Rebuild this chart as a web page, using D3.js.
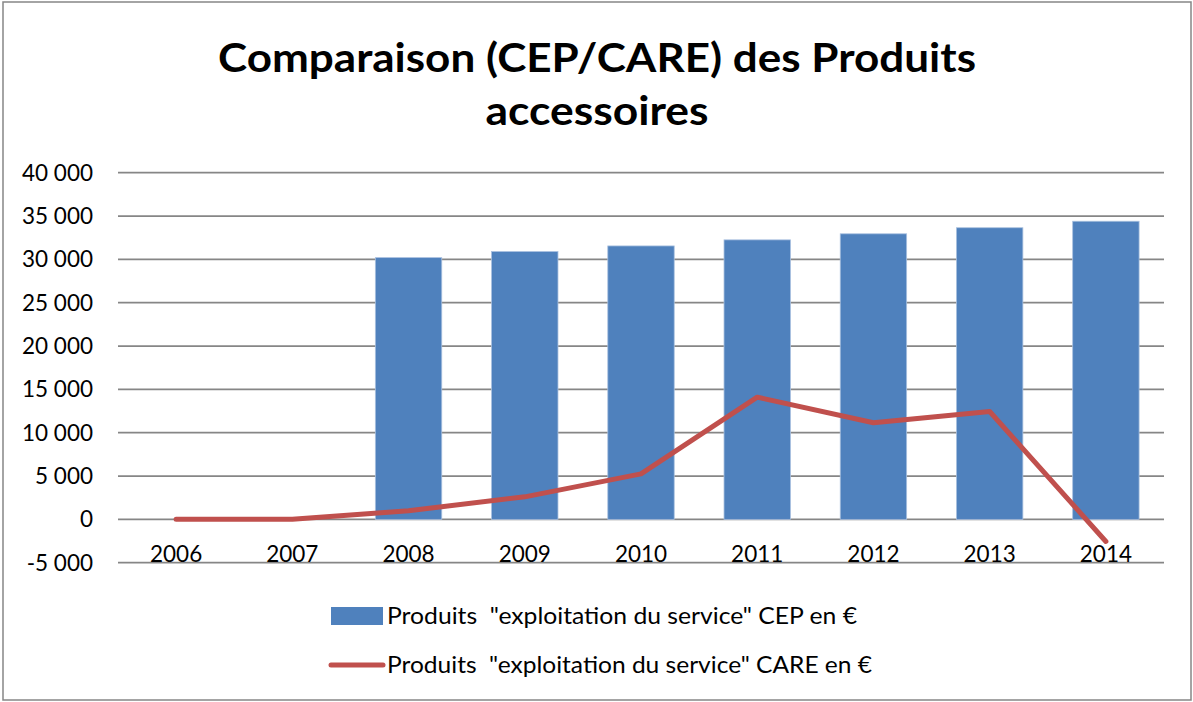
<!DOCTYPE html>
<html>
<head>
<meta charset="utf-8">
<script src="https://cdn.jsdelivr.net/npm/d3@7"></script>
<style>
  body { margin: 0; background: #fff; }
  text { font-family: Lato, "Open Sans", sans-serif; fill: #000; }
</style>
</head>
<body>
<svg width="1193" height="702"></svg>
<script>
var years = ['2006','2007','2008','2009','2010','2011','2012','2013','2014'];
var cepValues = [null, null, 30200, 30900, 31550, 32250, 32950, 33650, 34400];
var careValues = [0, 0, 1000, 2600, 5250, 14100, 11150, 12450, -2550];
var yTicks = [-5000, 0, 5000, 10000, 15000, 20000, 25000, 30000, 35000, 40000];
var titleLines = ['Comparaison (CEP/CARE) des Produits', 'accessoires'];
var seriesNames = ['Produits  "exploitation du service" CEP en \u20ac',
                   'Produits  "exploitation du service" CARE en \u20ac'];

var blue = '#4f81bd', red = '#c0504d', grid = '#868686';
var fr = d3.formatLocale({decimal: ',', thousands: ' ', grouping: [3], currency: ['', ' \u20ac'], minus: '-'});
var fmt = fr.format(',.0f');

var svg = d3.select('svg');

// chart border
svg.append('rect')
   .attr('x', 3).attr('y', 2)
   .attr('width', 1188).attr('height', 698)
   .attr('fill', '#fff')
   .attr('stroke', grid).attr('stroke-width', 1.5);

// title
var titleWidths = [758, 223];
svg.selectAll('.title')
   .data(titleLines)
   .enter().append('text')
     .attr('class', 'title')
     .attr('x', 597)
     .attr('y', (d, i) => 72 + i * 53)
     .attr('text-anchor', 'middle')
     .attr('font-size', 41)
     .attr('font-weight', 'bold')
     .attr('textLength', (d, i) => titleWidths[i])
     .attr('lengthAdjust', 'spacingAndGlyphs')
     .text(d => d);

var x = d3.scaleBand().domain(years).range([118, 1164]);
var y = d3.scaleLinear().domain([-5000, 40000]).range([562.7, 172.7]);
var barW = x.bandwidth() / 1.75;

// gridlines
svg.selectAll('.grid')
   .data(yTicks)
   .enter().append('line')
     .attr('class', 'grid')
     .attr('x1', 118).attr('x2', 1164)
     .attr('y1', d => y(d)).attr('y2', d => y(d))
     .attr('stroke', grid).attr('stroke-width', 1.7);

// y labels
svg.selectAll('.ylab')
   .data(yTicks)
   .enter().append('text')
     .attr('class', 'ylab')
     .attr('x', 93)
     .attr('y', d => y(d))
     .attr('dy', '0.36em')
     .attr('text-anchor', 'end')
     .attr('font-size', 22.5)
     .text(d => fmt(d));

// bars
var barData = years.map((yr, i) => ({year: yr, value: cepValues[i]})).filter(d => d.value != null);
svg.selectAll('.bar')
   .data(barData)
   .enter().append('rect')
     .attr('class', 'bar')
     .attr('x', d => x(d.year) + (x.bandwidth() - barW) / 2)
     .attr('y', d => y(d.value))
     .attr('width', barW)
     .attr('height', d => y(0) - y(d.value))
     .attr('fill', blue)
     .attr('stroke', '#a9c0df').attr('stroke-width', 0.8);

// x labels
svg.selectAll('.xlab')
   .data(years)
   .enter().append('text')
     .attr('class', 'xlab')
     .attr('x', d => x(d) + x.bandwidth() / 2)
     .attr('y', 562)
     .attr('text-anchor', 'middle')
     .attr('font-size', 22.5)
     .text(d => d);

// CARE line
var line = d3.line()
             .x((d, i) => x(years[i]) + x.bandwidth() / 2)
             .y(d => y(d));
svg.append('path')
   .attr('d', line(careValues))
   .attr('fill', 'none')
   .attr('stroke', red)
   .attr('stroke-width', 5)
   .attr('stroke-linecap', 'round')
   .attr('stroke-linejoin', 'round');

// legend
var lg = svg.append('g');
lg.append('rect')
  .attr('x', 331).attr('y', 607)
  .attr('width', 52).attr('height', 18)
  .attr('fill', blue);
lg.append('line')
  .attr('x1', 331).attr('x2', 383)
  .attr('y1', 665).attr('y2', 665)
  .attr('stroke', red).attr('stroke-width', 5)
  .attr('stroke-linecap', 'round');
var legWidths = [470, 485];
lg.selectAll('.legtext')
  .data(seriesNames)
  .enter().append('text')
    .attr('class', 'legtext')
    .attr('x', 387)
    .attr('y', (d, i) => 616 + i * 49)
    .attr('dy', '0.36em')
    .attr('font-size', 22.5)
    .attr('textLength', (d, i) => legWidths[i])
    .attr('lengthAdjust', 'spacingAndGlyphs')
    .style('white-space', 'pre')
    .text(d => d);
</script>
</body>
</html>
